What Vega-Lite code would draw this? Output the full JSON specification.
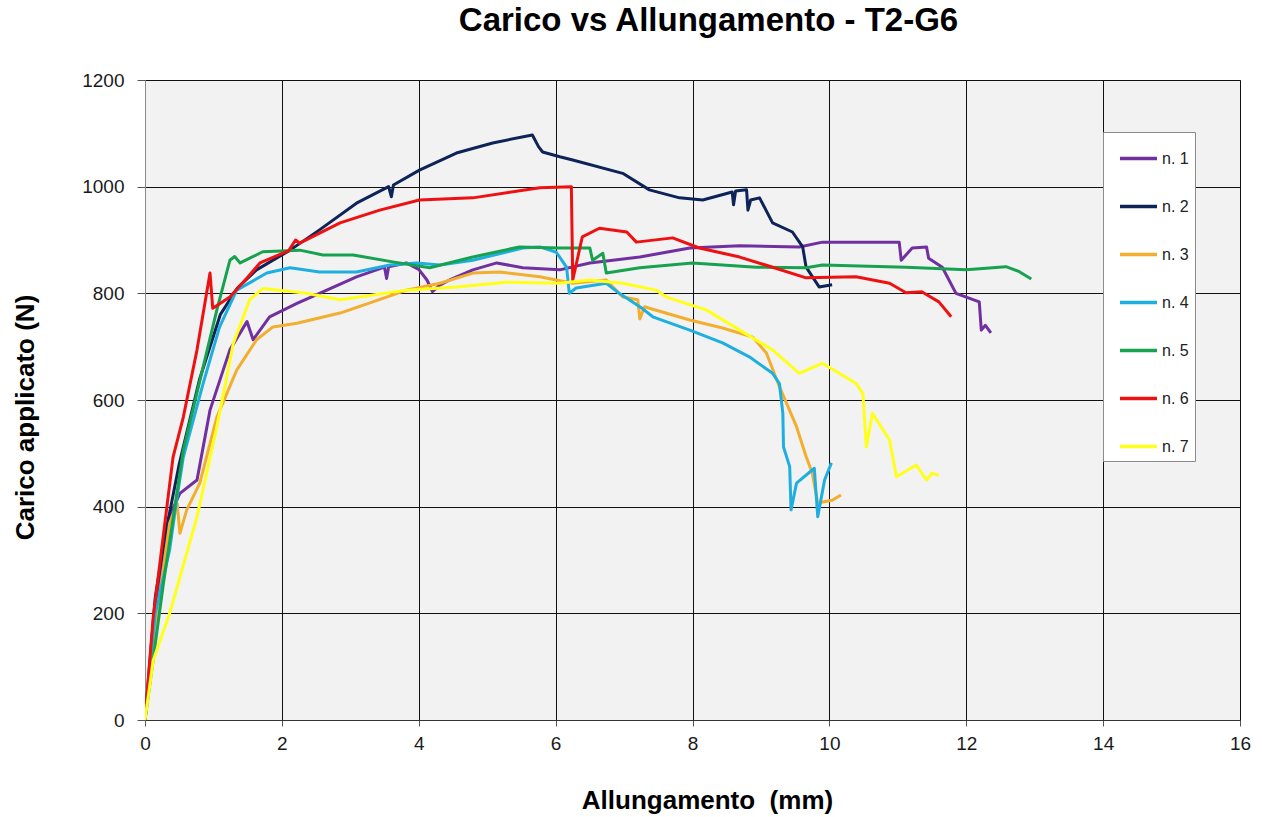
{
  "$schema": "https://vega.github.io/schema/vega-lite/v6.json",
  "width": 1095,
  "height": 640,
  "autosize": {"type": "none"},
  "padding": {"left": 145, "top": 80, "right": 28, "bottom": 97},
  "background": "white",
  "title": {
    "text": "Carico vs Allungamento - T2-G6",
    "font": "Liberation Sans",
    "fontSize": 33,
    "fontWeight": "bold",
    "color": "#000000",
    "anchor": "middle",
    "dx": 16,
    "offset": 33
  },
  "config": {
    "view": {"fill": "#F2F2F2", "stroke": "#8c8c8c", "strokeWidth": 1},
    "font": "Liberation Sans"
  },
  "data": {
    "values": [
      {"s":"n. 1","x":0,"y":0},{"s":"n. 1","x":0.15,"y":190},{"s":"n. 1","x":0.35,"y":380},{"s":"n. 1","x":0.51,"y":425},{"s":"n. 1","x":0.76,"y":450},{"s":"n. 1","x":0.95,"y":581},{"s":"n. 1","x":1.24,"y":694},{"s":"n. 1","x":1.49,"y":747},{"s":"n. 1","x":1.58,"y":713},{"s":"n. 1","x":1.82,"y":756},{"s":"n. 1","x":2.22,"y":781},{"s":"n. 1","x":2.55,"y":800},{"s":"n. 1","x":3.09,"y":831},{"s":"n. 1","x":3.5,"y":849},{"s":"n. 1","x":3.53,"y":828},{"s":"n. 1","x":3.56,"y":850},{"s":"n. 1","x":3.82,"y":857},{"s":"n. 1","x":4.0,"y":845},{"s":"n. 1","x":4.12,"y":825},{"s":"n. 1","x":4.2,"y":803},{"s":"n. 1","x":4.3,"y":815},{"s":"n. 1","x":4.45,"y":825},{"s":"n. 1","x":4.79,"y":844},{"s":"n. 1","x":5.14,"y":857},{"s":"n. 1","x":5.52,"y":848},{"s":"n. 1","x":6.06,"y":844},{"s":"n. 1","x":6.5,"y":857},{"s":"n. 1","x":7.23,"y":868},{"s":"n. 1","x":7.96,"y":885},{"s":"n. 1","x":8.69,"y":889},{"s":"n. 1","x":9.56,"y":887},{"s":"n. 1","x":9.9,"y":896},{"s":"n. 1","x":11.02,"y":896},{"s":"n. 1","x":11.05,"y":862},{"s":"n. 1","x":11.21,"y":885},{"s":"n. 1","x":11.42,"y":887},{"s":"n. 1","x":11.45,"y":866},{"s":"n. 1","x":11.65,"y":849},{"s":"n. 1","x":11.85,"y":800},{"s":"n. 1","x":12.0,"y":793},{"s":"n. 1","x":12.19,"y":784},{"s":"n. 1","x":12.22,"y":731},{"s":"n. 1","x":12.28,"y":740},{"s":"n. 1","x":12.36,"y":726},

      {"s":"n. 2","x":0,"y":0},{"s":"n. 2","x":0.15,"y":230},{"s":"n. 2","x":0.3,"y":350},{"s":"n. 2","x":0.5,"y":480},{"s":"n. 2","x":0.8,"y":640},{"s":"n. 2","x":1.1,"y":760},{"s":"n. 2","x":1.35,"y":810},{"s":"n. 2","x":1.63,"y":844},{"s":"n. 2","x":2.12,"y":881},{"s":"n. 2","x":2.55,"y":919},{"s":"n. 2","x":3.09,"y":969},{"s":"n. 2","x":3.56,"y":1000},{"s":"n. 2","x":3.6,"y":981},{"s":"n. 2","x":3.63,"y":1003},{"s":"n. 2","x":4.01,"y":1031},{"s":"n. 2","x":4.55,"y":1063},{"s":"n. 2","x":5.08,"y":1082},{"s":"n. 2","x":5.66,"y":1097},{"s":"n. 2","x":5.75,"y":1075},{"s":"n. 2","x":5.81,"y":1065},{"s":"n. 2","x":6.06,"y":1056},{"s":"n. 2","x":6.25,"y":1050},{"s":"n. 2","x":6.98,"y":1025},{"s":"n. 2","x":7.37,"y":994},{"s":"n. 2","x":7.81,"y":979},{"s":"n. 2","x":8.15,"y":975},{"s":"n. 2","x":8.58,"y":990},{"s":"n. 2","x":8.6,"y":966},{"s":"n. 2","x":8.63,"y":992},{"s":"n. 2","x":8.79,"y":994},{"s":"n. 2","x":8.81,"y":956},{"s":"n. 2","x":8.85,"y":975},{"s":"n. 2","x":8.98,"y":979},{"s":"n. 2","x":9.17,"y":932},{"s":"n. 2","x":9.46,"y":915},{"s":"n. 2","x":9.61,"y":887},{"s":"n. 2","x":9.66,"y":849},{"s":"n. 2","x":9.85,"y":812},{"s":"n. 2","x":10.04,"y":816},

      {"s":"n. 3","x":0,"y":0},{"s":"n. 3","x":0.17,"y":193},{"s":"n. 3","x":0.36,"y":369},{"s":"n. 3","x":0.47,"y":406},{"s":"n. 3","x":0.51,"y":350},{"s":"n. 3","x":0.61,"y":394},{"s":"n. 3","x":0.8,"y":444},{"s":"n. 3","x":1.05,"y":568},{"s":"n. 3","x":1.34,"y":656},{"s":"n. 3","x":1.63,"y":713},{"s":"n. 3","x":1.87,"y":737},{"s":"n. 3","x":2.22,"y":744},{"s":"n. 3","x":2.85,"y":763},{"s":"n. 3","x":3.33,"y":784},{"s":"n. 3","x":3.82,"y":806},{"s":"n. 3","x":4.31,"y":819},{"s":"n. 3","x":4.79,"y":838},{"s":"n. 3","x":5.18,"y":840},{"s":"n. 3","x":5.77,"y":831},{"s":"n. 3","x":6.25,"y":819},{"s":"n. 3","x":6.74,"y":825},{"s":"n. 3","x":6.98,"y":793},{"s":"n. 3","x":7.2,"y":788},{"s":"n. 3","x":7.23,"y":752},{"s":"n. 3","x":7.3,"y":775},{"s":"n. 3","x":7.37,"y":772},{"s":"n. 3","x":7.96,"y":750},{"s":"n. 3","x":8.44,"y":735},{"s":"n. 3","x":8.88,"y":718},{"s":"n. 3","x":9.08,"y":688},{"s":"n. 3","x":9.27,"y":625},{"s":"n. 3","x":9.52,"y":550},{"s":"n. 3","x":9.66,"y":494},{"s":"n. 3","x":9.75,"y":463},{"s":"n. 3","x":9.83,"y":407},{"s":"n. 3","x":10.04,"y":412},{"s":"n. 3","x":10.17,"y":422},

      {"s":"n. 4","x":0,"y":0},{"s":"n. 4","x":0.15,"y":200},{"s":"n. 4","x":0.36,"y":319},{"s":"n. 4","x":0.47,"y":419},{"s":"n. 4","x":0.56,"y":493},{"s":"n. 4","x":0.85,"y":631},{"s":"n. 4","x":1.09,"y":737},{"s":"n. 4","x":1.34,"y":806},{"s":"n. 4","x":1.78,"y":838},{"s":"n. 4","x":2.12,"y":848},{"s":"n. 4","x":2.55,"y":840},{"s":"n. 4","x":3.09,"y":840},{"s":"n. 4","x":3.58,"y":853},{"s":"n. 4","x":3.97,"y":857},{"s":"n. 4","x":4.31,"y":853},{"s":"n. 4","x":4.79,"y":862},{"s":"n. 4","x":5.52,"y":885},{"s":"n. 4","x":5.77,"y":887},{"s":"n. 4","x":6.01,"y":877},{"s":"n. 4","x":6.16,"y":849},{"s":"n. 4","x":6.2,"y":800},{"s":"n. 4","x":6.3,"y":810},{"s":"n. 4","x":6.74,"y":819},{"s":"n. 4","x":6.93,"y":800},{"s":"n. 4","x":7.23,"y":775},{"s":"n. 4","x":7.42,"y":756},{"s":"n. 4","x":7.96,"y":731},{"s":"n. 4","x":8.44,"y":707},{"s":"n. 4","x":8.83,"y":681},{"s":"n. 4","x":9.17,"y":650},{"s":"n. 4","x":9.27,"y":631},{"s":"n. 4","x":9.32,"y":575},{"s":"n. 4","x":9.33,"y":512},{"s":"n. 4","x":9.42,"y":475},{"s":"n. 4","x":9.44,"y":394},{"s":"n. 4","x":9.52,"y":444},{"s":"n. 4","x":9.78,"y":472},{"s":"n. 4","x":9.83,"y":381},{"s":"n. 4","x":9.93,"y":450},{"s":"n. 4","x":10.03,"y":482},

      {"s":"n. 5","x":0,"y":0},{"s":"n. 5","x":0.27,"y":257},{"s":"n. 5","x":0.56,"y":506},{"s":"n. 5","x":0.85,"y":662},{"s":"n. 5","x":1.05,"y":769},{"s":"n. 5","x":1.24,"y":862},{"s":"n. 5","x":1.31,"y":869},{"s":"n. 5","x":1.39,"y":857},{"s":"n. 5","x":1.72,"y":878},{"s":"n. 5","x":2.26,"y":881},{"s":"n. 5","x":2.6,"y":872},{"s":"n. 5","x":3.04,"y":872},{"s":"n. 5","x":3.62,"y":859},{"s":"n. 5","x":4.16,"y":848},{"s":"n. 5","x":4.79,"y":868},{"s":"n. 5","x":5.47,"y":887},{"s":"n. 5","x":6.06,"y":885},{"s":"n. 5","x":6.5,"y":885},{"s":"n. 5","x":6.54,"y":862},{"s":"n. 5","x":6.69,"y":875},{"s":"n. 5","x":6.74,"y":838},{"s":"n. 5","x":7.23,"y":848},{"s":"n. 5","x":8.0,"y":857},{"s":"n. 5","x":8.93,"y":849},{"s":"n. 5","x":9.66,"y":848},{"s":"n. 5","x":9.9,"y":853},{"s":"n. 5","x":11.12,"y":849},{"s":"n. 5","x":12.0,"y":844},{"s":"n. 5","x":12.58,"y":850},{"s":"n. 5","x":12.77,"y":841},{"s":"n. 5","x":12.95,"y":827},

      {"s":"n. 6","x":0,"y":0},{"s":"n. 6","x":0.12,"y":193},{"s":"n. 6","x":0.41,"y":493},{"s":"n. 6","x":0.56,"y":568},{"s":"n. 6","x":0.76,"y":694},{"s":"n. 6","x":0.95,"y":838},{"s":"n. 6","x":0.99,"y":772},{"s":"n. 6","x":1.24,"y":793},{"s":"n. 6","x":1.5,"y":830},{"s":"n. 6","x":1.68,"y":857},{"s":"n. 6","x":2.1,"y":880},{"s":"n. 6","x":2.2,"y":900},{"s":"n. 6","x":2.26,"y":894},{"s":"n. 6","x":2.85,"y":932},{"s":"n. 6","x":3.43,"y":956},{"s":"n. 6","x":4.01,"y":975},{"s":"n. 6","x":4.79,"y":979},{"s":"n. 6","x":5.77,"y":998},{"s":"n. 6","x":6.23,"y":1000},{"s":"n. 6","x":6.25,"y":825},{"s":"n. 6","x":6.39,"y":906},{"s":"n. 6","x":6.64,"y":922},{"s":"n. 6","x":7.04,"y":915},{"s":"n. 6","x":7.18,"y":896},{"s":"n. 6","x":7.71,"y":904},{"s":"n. 6","x":8.1,"y":885},{"s":"n. 6","x":8.69,"y":868},{"s":"n. 6","x":9.17,"y":849},{"s":"n. 6","x":9.66,"y":829},{"s":"n. 6","x":10.39,"y":831},{"s":"n. 6","x":10.88,"y":819},{"s":"n. 6","x":11.12,"y":801},{"s":"n. 6","x":11.35,"y":803},{"s":"n. 6","x":11.6,"y":784},{"s":"n. 6","x":11.78,"y":756},

      {"s":"n. 7","x":0,"y":0},{"s":"n. 7","x":0.12,"y":112},{"s":"n. 7","x":0.36,"y":200},{"s":"n. 7","x":0.76,"y":381},{"s":"n. 7","x":1.05,"y":550},{"s":"n. 7","x":1.29,"y":706},{"s":"n. 7","x":1.53,"y":788},{"s":"n. 7","x":1.72,"y":809},{"s":"n. 7","x":2.36,"y":800},{"s":"n. 7","x":2.85,"y":788},{"s":"n. 7","x":3.33,"y":797},{"s":"n. 7","x":3.82,"y":806},{"s":"n. 7","x":4.55,"y":812},{"s":"n. 7","x":5.28,"y":821},{"s":"n. 7","x":6.06,"y":819},{"s":"n. 7","x":6.5,"y":825},{"s":"n. 7","x":6.98,"y":819},{"s":"n. 7","x":7.47,"y":806},{"s":"n. 7","x":7.62,"y":793},{"s":"n. 7","x":8.2,"y":769},{"s":"n. 7","x":8.69,"y":731},{"s":"n. 7","x":9.17,"y":694},{"s":"n. 7","x":9.56,"y":650},{"s":"n. 7","x":9.9,"y":669},{"s":"n. 7","x":10.39,"y":631},{"s":"n. 7","x":10.49,"y":612},{"s":"n. 7","x":10.54,"y":512},{"s":"n. 7","x":10.63,"y":575},{"s":"n. 7","x":10.88,"y":525},{"s":"n. 7","x":10.98,"y":456},{"s":"n. 7","x":11.27,"y":478},{"s":"n. 7","x":11.42,"y":450},{"s":"n. 7","x":11.5,"y":463},{"s":"n. 7","x":11.6,"y":459}
    ]
  },
  "mark": {"type": "line", "strokeWidth": 3, "strokeJoin": "round", "clip": true},
  "encoding": {
    "x": {
      "field": "x",
      "type": "quantitative",
      "scale": {"domain": [0, 16], "nice": false, "zero": false},
      "axis": {
        "title": "Allungamento\u00a0\u00a0(mm)",
        "titleFontSize": 26,
        "titleFontWeight": "bold",
        "titleColor": "#000000",
        "titleX": 562,
        "titleY": 80,
        "titleBaseline": "middle",
        "values": [0, 2, 4, 6, 8, 10, 12, 14, 16],
        "labelFontSize": 19,
        "labelColor": "#1a1a1a",
        "labelPadding": 8,
        "labelFlush": false,
        "tickSize": 6,
        "tickColor": "#555555",
        "domainColor": "#333333",
        "grid": true,
        "gridColor": "#111111",
        "gridWidth": 1,
        "gridOpacity": 1
      }
    },
    "y": {
      "field": "y",
      "type": "quantitative",
      "scale": {"domain": [0, 1200], "nice": false, "zero": false},
      "axis": {
        "title": "Carico applicato (N)",
        "titleFontSize": 26,
        "titleFontWeight": "bold",
        "titleColor": "#000000",
        "titleX": -120,
        "titleY": 337,
        "titleAngle": -90,
        "titleAlign": "center",
        "titleBaseline": "middle",
        "values": [0, 200, 400, 600, 800, 1000, 1200],
        "format": "d",
        "labelFontSize": 19,
        "labelColor": "#1a1a1a",
        "labelPadding": 13,
        "labelFlush": false,
        "tickSize": 8,
        "tickColor": "#555555",
        "domainColor": "#8c8c8c",
        "grid": true,
        "gridColor": "#111111",
        "gridWidth": 1,
        "gridOpacity": 1
      }
    },
    "color": {
      "field": "s",
      "type": "nominal",
      "scale": {
        "domain": ["n. 1", "n. 2", "n. 3", "n. 4", "n. 5", "n. 6", "n. 7"],
        "range": ["#7030A0", "#0E2458", "#F2AE2E", "#1EAFE0", "#17A24F", "#EE1111", "#FFFF1A"]
      },
      "legend": {
        "title": null,
        "orient": "none",
        "legendX": 958,
        "legendY": 52,
        "fillColor": "#ffffff",
        "strokeColor": "#8c8c8c",
        "padding": 6,
        "symbolOffset": 9,
        "symbolType": "stroke",
        "symbolSize": 1369,
        "symbolStrokeWidth": 3.5,
        "labelFontSize": 16,
        "labelColor": "#222222",
        "labelOffset": 3,
        "rowPadding": 19,
        "labelLimit": 60
      }
    }
  }
}
